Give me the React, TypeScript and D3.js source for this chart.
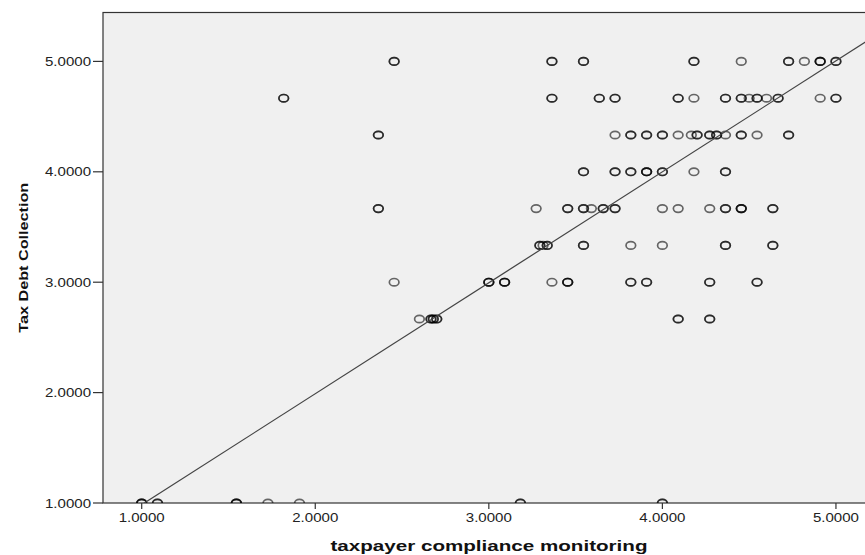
import React from "react";
import * as d3 from "d3";

// axis ticks
const xTicks = [1, 2, 3, 4, 5];
const yTicks = [1, 2, 3, 4, 5];

// fit line
const fitIntercept = -0.02;
const fitSlope = 1.005;

// x values per Tax Debt Collection level (repeats = stacked markers)
const xAt5000 = [2.4545, 2.4545, 3.3636, 3.3636, 3.5455, 3.5455, 4.1818, 4.1818, 4.4545, 4.7273, 4.7273, 4.8182, 4.9091, 4.9091, 4.9091, 5.0, 5.0];
const xAt4667 = [1.8182, 1.8182, 3.3636, 3.3636, 3.6364, 3.6364, 3.7273, 3.7273, 4.0909, 4.0909, 4.1818, 4.3636, 4.3636, 4.4545, 4.4545, 4.5, 4.5455, 4.5455, 4.6, 4.6667, 4.6667, 4.9091, 5.0, 5.0];
const xAt4333 = [2.3636, 2.3636, 3.7273, 3.8182, 3.8182, 3.9091, 3.9091, 4.0, 4.0, 4.0909, 4.1667, 4.2, 4.2, 4.2727, 4.2727, 4.3125, 4.3125, 4.3636, 4.4545, 4.4545, 4.5455, 4.7273, 4.7273];
const xAt4000 = [3.5455, 3.5455, 3.7273, 3.7273, 3.8182, 3.8182, 3.9091, 3.9091, 3.9091, 4.0, 4.0, 4.1818, 4.3636, 4.3636];
const xAt3667 = [2.3636, 2.3636, 3.2727, 3.4545, 3.4545, 3.5455, 3.5455, 3.5909, 3.6591, 3.6591, 3.7273, 3.7273, 4.0, 4.0909, 4.2727, 4.3636, 4.3636, 4.4545, 4.4545, 4.4545, 4.6364, 4.6364];
const xAt3333 = [3.2941, 3.2941, 3.3125, 3.3364, 3.3364, 3.5455, 3.5455, 3.8182, 4.0, 4.3636, 4.3636, 4.6364, 4.6364];
const xAt3000 = [2.4545, 3.0, 3.0, 3.0, 3.0909, 3.0909, 3.0909, 3.3636, 3.4545, 3.4545, 3.4545, 3.8182, 3.8182, 3.9091, 3.9091, 4.2727, 4.2727, 4.5455, 4.5455];
const xAt2667 = [2.6, 2.6667, 2.6667, 2.68, 2.68, 2.7, 2.7, 4.0909, 4.0909, 4.2727, 4.2727];
const xAt1000 = [1.0, 1.0, 1.0, 1.0909, 1.0909, 1.5455, 1.5455, 1.5455, 1.7273, 1.9091, 3.1818, 3.1818, 4.0, 4.0];

const yLevels = [5, 4.6667, 4.3333, 4, 3.6667, 3.3333, 3, 2.6667, 1];
const rows = [xAt5000, xAt4667, xAt4333, xAt4000, xAt3667, xAt3333, xAt3000, xAt2667, xAt1000];

const points = rows.flatMap((xs, i) => xs.map((x) => ({ x, y: yLevels[i] })));

const W = 865;
const H = 555;
const plotL = 103, plotR = 875, plotT = 12.5, plotB = 503;
const font = "'Liberation Sans', Arial, sans-serif";

export default function App() {
  const x = d3.scaleLinear().domain([0.777, 5.225]).range([plotL, plotR]);
  const y = d3.scaleLinear().domain([1, 5.443]).range([plotB, plotT]);
  const fmt = d3.format(".4f");
  const [x0, x1] = x.domain();

  return (
    <svg width={W} height={H} style={{ position: "absolute", left: 0, top: 0, background: "#fff" }}>
      <defs>
        <clipPath id="plot">
          <rect x={plotL} y={plotT} width={plotR - plotL} height={plotB - plotT} />
        </clipPath>
      </defs>
      <rect x={plotL} y={plotT} width={plotR - plotL} height={plotB - plotT} fill="#f0f0f0" stroke="#333" strokeWidth={1.2} />

      <g clipPath="url(#plot)">
        {points.map((p, i) => (
          <ellipse key={i} cx={x(p.x)} cy={y(p.y)} rx={4.8} ry={3.7}
            fill="none" stroke="#000" strokeOpacity={0.58} strokeWidth={1.7} />
        ))}
        <line x1={x(x0)} y1={y(fitIntercept + fitSlope * x0)} x2={x(x1)} y2={y(fitIntercept + fitSlope * x1)}
          stroke="#444" strokeWidth={1.2} />
      </g>

      {/* y axis */}
      {yTicks.map((t) => (
        <g key={"y" + t}>
          <line x1={plotL - 10} x2={plotL} y1={y(t)} y2={y(t)} stroke="#333" strokeWidth={1.2} />
          <text x={91} y={y(t)} dy="0.36em" textAnchor="end" fontFamily={font} fontSize={12.5}
            fill="#222" textLength={46} lengthAdjust="spacingAndGlyphs">{fmt(t)}</text>
        </g>
      ))}
      {/* x axis */}
      {xTicks.map((t) => (
        <g key={"x" + t}>
          <line x1={x(t)} x2={x(t)} y1={plotB} y2={plotB + 6} stroke="#333" strokeWidth={1.2} />
          <text x={x(t)} y={522} textAnchor="middle" fontFamily={font} fontSize={12.5}
            fill="#222" textLength={46} lengthAdjust="spacingAndGlyphs">{fmt(t)}</text>
        </g>
      ))}

      <text x={489} y={551} textAnchor="middle" fontFamily={font} fontSize={14} fontWeight="bold"
        fill="#111" textLength={317} lengthAdjust="spacingAndGlyphs">taxpayer compliance monitoring</text>
      <text transform={`translate(28, ${(plotT + plotB) / 2}) rotate(-90)`} textAnchor="middle" fontFamily={font}
        fontSize={12.5} fontWeight="bold" fill="#111" textLength={150} lengthAdjust="spacingAndGlyphs">Tax Debt Collection</text>
    </svg>
  );
}
